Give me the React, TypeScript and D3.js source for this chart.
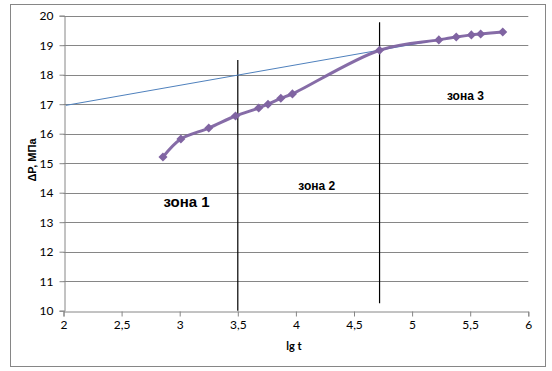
import React, { useRef, useEffect } from 'react';
import * as d3 from 'd3';

// lg t vs ΔP (MPa)
const lgT = [2.856, 3.01, 3.25, 3.48, 3.68, 3.76, 3.87, 3.97, 4.72, 5.23, 5.38, 5.51, 5.59, 5.78];
const dP = [15.21, 15.82, 16.19, 16.6, 16.87, 17.0, 17.2, 17.35, 18.83, 19.18, 19.28, 19.35, 19.38, 19.45];

// tangent line
const tangentX = [2.02, 5.38];
const tangentY = [16.96, 19.29];

// zone boundaries
const boundaryX = [3.5, 4.72];
const boundaryTop = [18.5, 19.78];
const boundaryBottom = [10, 10.25];

const xTicks = [2, 2.5, 3, 3.5, 4, 4.5, 5, 5.5, 6];
const yTicks = [10, 11, 12, 13, 14, 15, 16, 17, 18, 19, 20];

const zoneLabels = ['зона 1', 'зона 2', 'зона 3'];
const zoneX = [2.86, 4.02, 5.3];
const zoneY = [13.5, 14.09, 17.14];

const App: React.FC = () => {
  const svgRef = useRef<SVGSVGElement | null>(null);

  useEffect(() => {
    if (!svgRef.current) return;
    const width = 552;
    const height = 371;
    const svg = d3.select(svgRef.current).attr('width', width).attr('height', height);
    svg.selectAll('*').remove();

    const x = d3.scaleLinear().domain([2, 6]).range([63.5, 528.3]);
    const y = d3.scaleLinear().domain([10, 20]).range([310.7, 15.7]);

    const grid = '#868686';
    const tickFont = 'Lato, "Open Sans", sans-serif';

    // outer frame
    svg.append('rect')
      .attr('x', 10.5).attr('y', 4.5)
      .attr('width', 535).attr('height', 362)
      .attr('fill', 'white').attr('stroke', grid);

    // horizontal gridlines
    svg.append('g')
      .selectAll('line')
      .data(yTicks.slice(1))
      .enter()
      .append('line')
      .attr('x1', x(2)).attr('x2', x(6))
      .attr('y1', d => Math.round(y(d)) + 0.5)
      .attr('y2', d => Math.round(y(d)) + 0.5)
      .attr('stroke', grid);

    // y axis
    const yAxis = svg.append('g')
      .attr('transform', `translate(${Math.round(x(2)) + 0.5},0)`)
      .call(d3.axisLeft(y).tickValues(yTicks).tickSize(5).tickPadding(6).tickFormat(d => String(d)));
    yAxis.select('.domain').attr('stroke', grid);
    yAxis.selectAll('line').attr('stroke', grid);
    yAxis.selectAll('text').attr('font-family', tickFont).attr('font-size', 12).attr('fill', '#000');

    // x axis
    const xAxis = svg.append('g')
      .attr('transform', `translate(0,${Math.round(y(10)) + 0.5})`)
      .call(d3.axisBottom(x).tickValues(xTicks).tickSize(5).tickPadding(4)
        .tickFormat(d => String(d).replace('.', ',')));
    xAxis.select('.domain').attr('stroke', grid);
    xAxis.selectAll('line').attr('stroke', grid);
    xAxis.selectAll('text').attr('font-family', tickFont).attr('font-size', 12).attr('fill', '#000');

    // zone boundaries
    svg.append('g')
      .selectAll('line')
      .data(boundaryX)
      .enter()
      .append('line')
      .attr('x1', d => x(d)).attr('x2', d => x(d))
      .attr('y1', (d, i) => y(boundaryTop[i]))
      .attr('y2', (d, i) => y(boundaryBottom[i]))
      .attr('stroke', '#000')
      .attr('stroke-width', 1.2);

    // tangent line
    svg.append('line')
      .attr('x1', x(tangentX[0])).attr('y1', y(tangentY[0]))
      .attr('x2', x(tangentX[1])).attr('y2', y(tangentY[1]))
      .attr('stroke', '#4F81BD')
      .attr('stroke-width', 1);

    // measured curve
    const pts = lgT.map((v, i) => [v, dP[i]] as [number, number]);
    const line = d3.line<[number, number]>()
      .x(d => x(d[0]))
      .y(d => y(d[1]))
      .curve(d3.curveCatmullRom.alpha(0.5));
    svg.append('path')
      .attr('d', line(pts))
      .attr('fill', 'none')
      .attr('stroke', '#8064A2')
      .attr('stroke-width', 3)
      .attr('opacity', 0.95);

    const diamond = d3.symbol().type(d3.symbolDiamond2).size(52);
    svg.append('g')
      .selectAll('path')
      .data(pts)
      .enter()
      .append('path')
      .attr('d', diamond)
      .attr('transform', d => `translate(${x(d[0])},${y(d[1])})`)
      .attr('fill', '#8064A2');

    // zone labels
    svg.append('g')
      .selectAll('text')
      .data(zoneLabels)
      .enter()
      .append('text')
      .attr('x', (d, i) => x(zoneX[i]))
      .attr('y', (d, i) => y(zoneY[i]))
      .attr('font-family', '"Liberation Sans", Arial, sans-serif')
      .attr('font-weight', 'bold')
      .attr('font-size', (d, i) => (i === 0 ? 15 : 12))
      .attr('fill', '#000')
      .text(d => d);

    // axis titles
    svg.append('text')
      .attr('transform', `translate(36,160) rotate(-90)`)
      .attr('text-anchor', 'middle')
      .attr('font-family', '"Liberation Sans", Arial, sans-serif')
      .attr('font-weight', 'bold')
      .attr('font-size', 11)
      .text('ΔP, МПа');

    svg.append('text')
      .attr('x', 294)
      .attr('y', 350)
      .attr('text-anchor', 'middle')
      .attr('font-family', tickFont)
      .attr('font-weight', 'bold')
      .attr('font-size', 11)
      .text('lg t');
  }, []);

  return (
    <div style={{ position: 'absolute', left: 0, top: 0 }}>
      <svg ref={svgRef} style={{ display: 'block' }}></svg>
    </div>
  );
};

export default App;
